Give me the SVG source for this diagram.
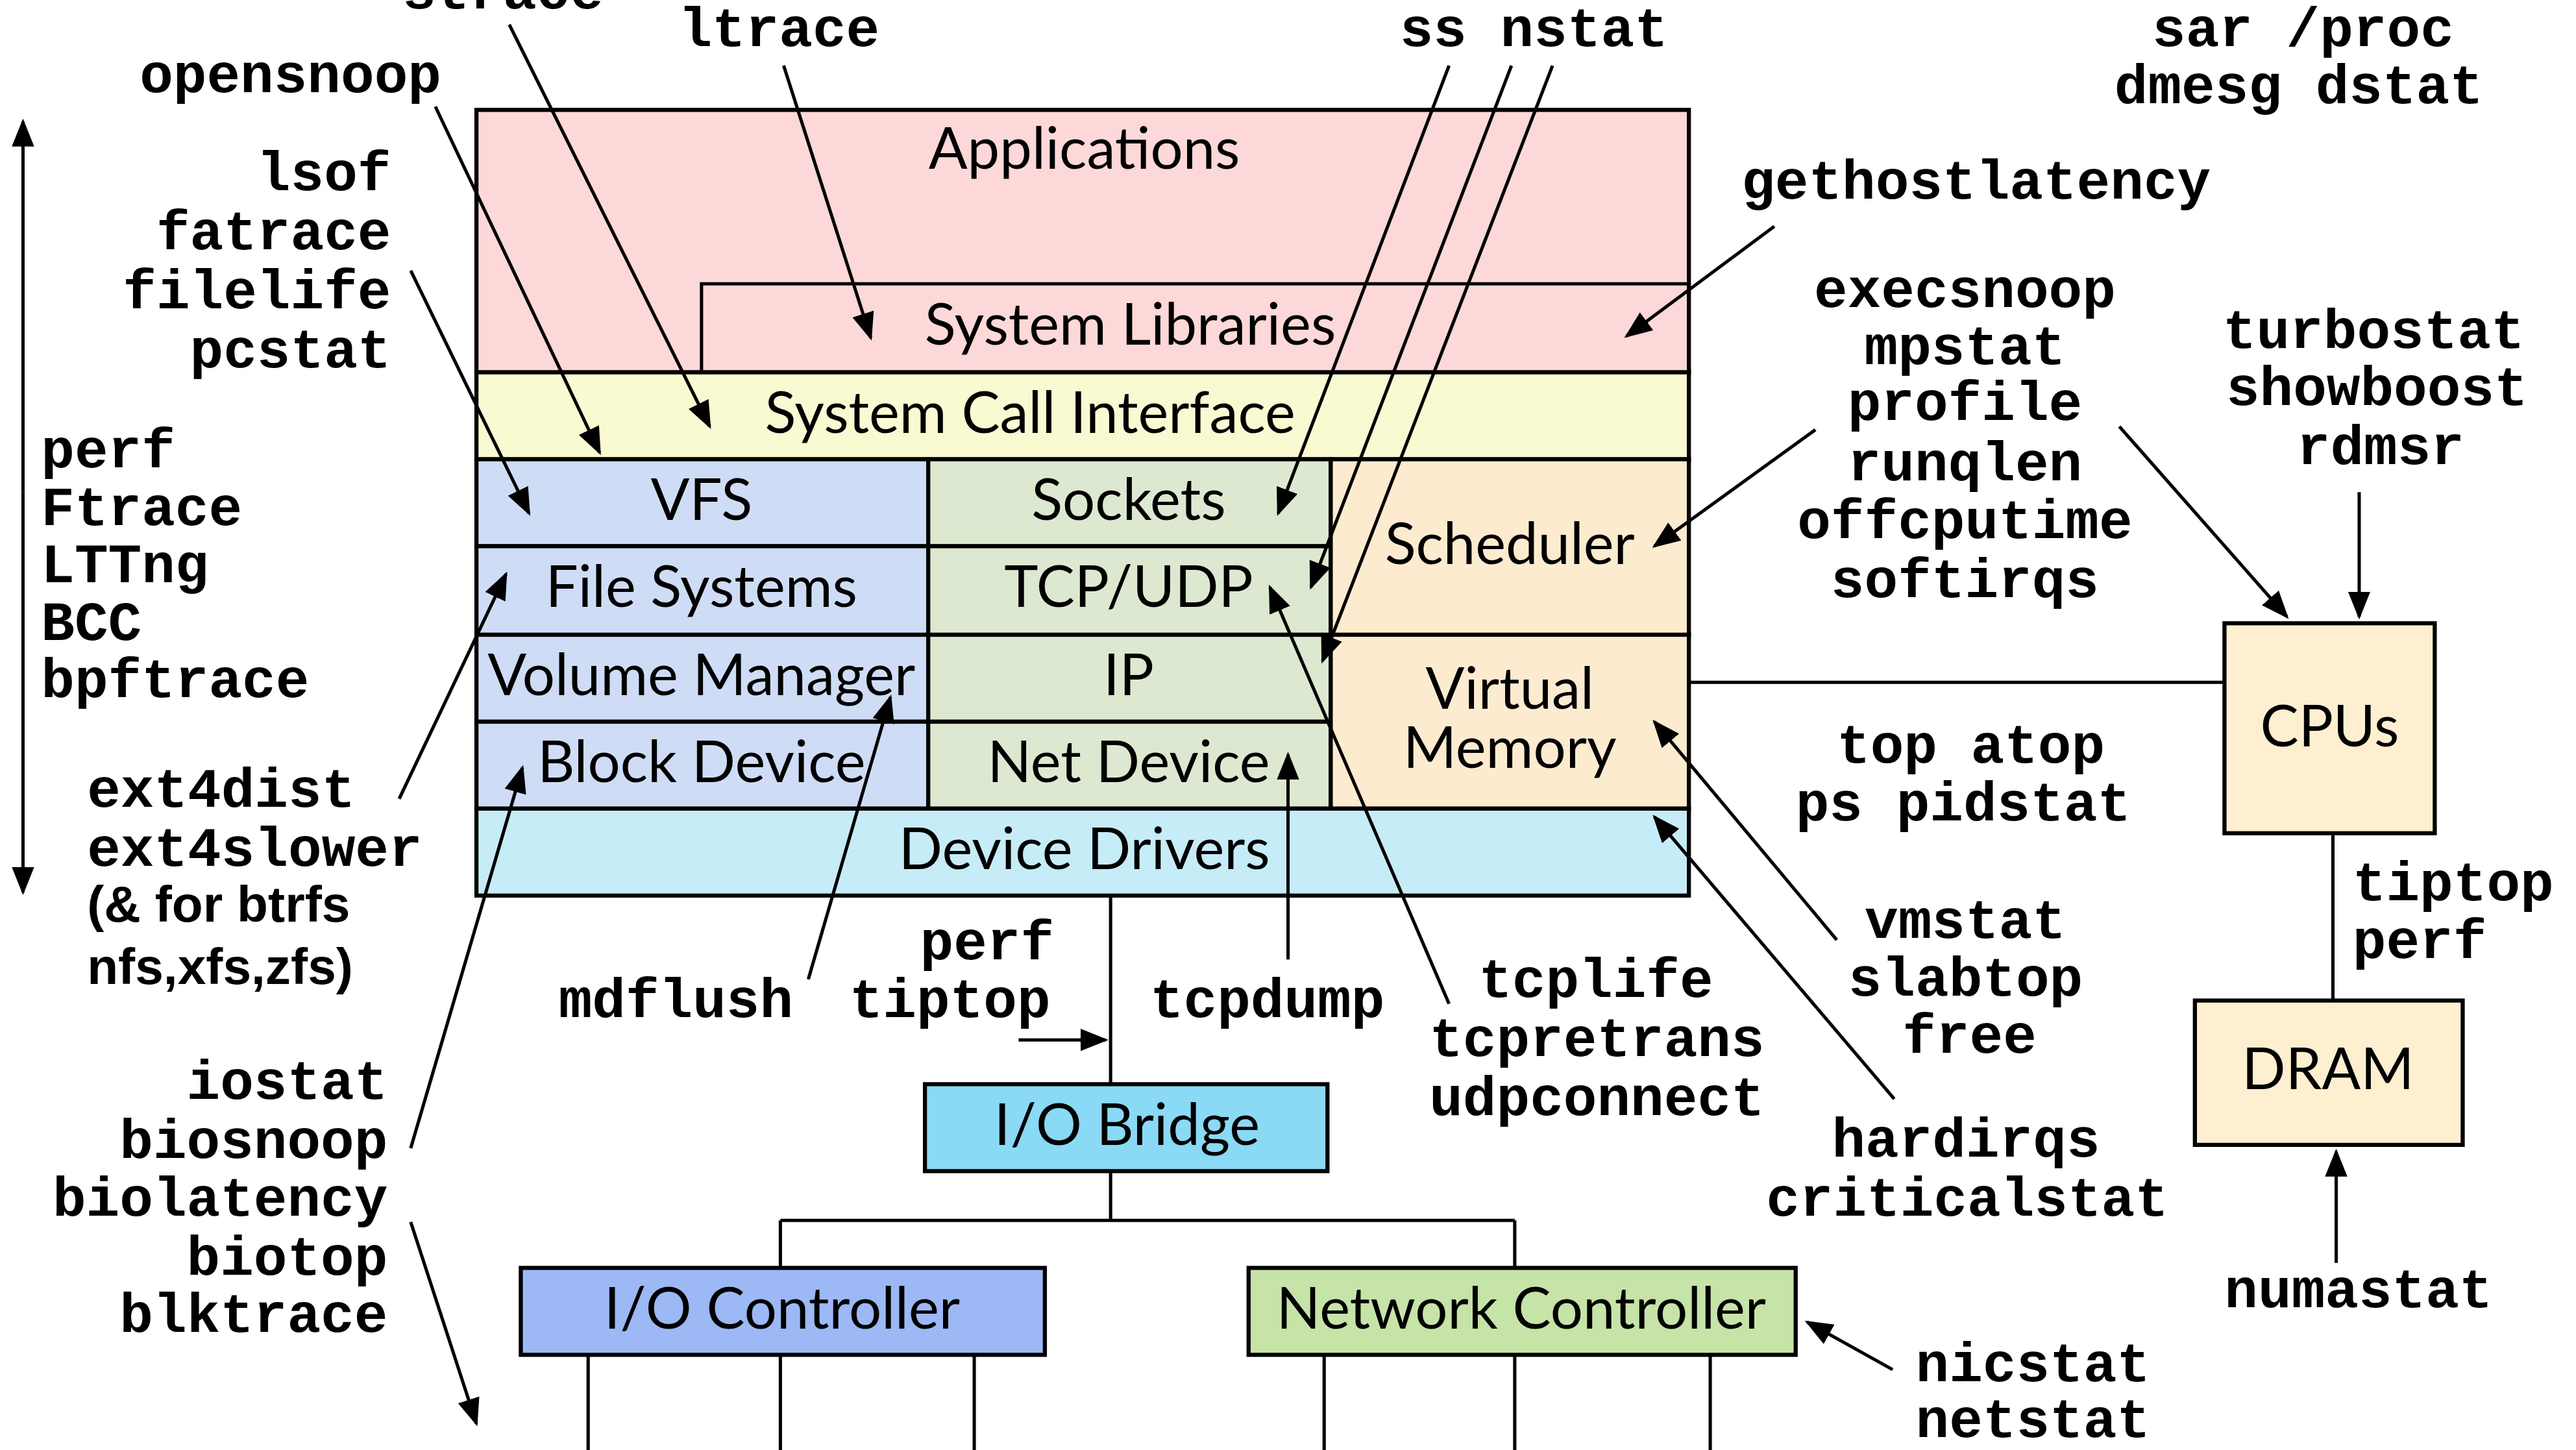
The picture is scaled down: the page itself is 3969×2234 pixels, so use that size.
<svg xmlns="http://www.w3.org/2000/svg" width="3969" height="2234" viewBox="0 0 3969 2234">
<defs>
<marker id="ah" viewBox="0 0 10 10" refX="9" refY="5" markerWidth="8.5" markerHeight="8.5" orient="auto-start-reverse" markerUnits="strokeWidth"><path d="M0,1 L10,5 L0,9 z" fill="#000"/></marker>
<style>
.t{font-family:"Liberation Mono","DejaVu Sans Mono",monospace;font-weight:bold;font-size:34px;fill:#000}
.s{font-family:"Liberation Sans",Arial,sans-serif;font-weight:bold;font-size:31px;fill:#000}
.b{font-family:Lato,"Open Sans",sans-serif;font-size:35px;fill:#000}
.bx{stroke:#000;stroke-width:2.5}
.ln{stroke:#000;stroke-width:2;fill:none}
.ar{stroke:#000;stroke-width:2;fill:none;marker-end:url(#ah)}
</style>
</defs>
<rect width="3969" height="2234" fill="#fff"/>
<g transform="scale(2.5313,2.5271)">
<g id="applications"><rect class="bx" x="290" y="67" width="738" height="160" fill="#fdd8d8"/><text class="b" x="660" y="103" text-anchor="middle">Applications</text></g>
<g id="syslibs"><path class="ln" d="M427,227 V173 H1028"/><text class="b" x="688" y="210" text-anchor="middle">System Libraries</text></g>
<g id="syscall"><rect class="bx" x="290" y="227" width="738" height="53" fill="#fafad2"/><text class="b" x="627" y="264" text-anchor="middle">System Call Interface</text></g>
<g id="vfs"><rect class="bx" x="290" y="280" width="275" height="53" fill="#cfdcf5"/><text class="b" x="427" y="317" text-anchor="middle">VFS</text></g>
<g id="fs"><rect class="bx" x="290" y="333" width="275" height="54" fill="#cfdcf5"/><text class="b" x="427" y="370" text-anchor="middle">File Systems</text></g>
<g id="vm"><rect class="bx" x="290" y="387" width="275" height="53" fill="#cfdcf5"/><text class="b" x="427" y="424" text-anchor="middle">Volume Manager</text></g>
<g id="blk"><rect class="bx" x="290" y="440" width="275" height="53" fill="#cfdcf5"/><text class="b" x="427" y="477" text-anchor="middle">Block Device</text></g>
<g id="sockets"><rect class="bx" x="565" y="280" width="245" height="53" fill="#dde8d0"/><text class="b" x="687" y="317" text-anchor="middle">Sockets</text></g>
<g id="tcpudp"><rect class="bx" x="565" y="333" width="245" height="54" fill="#dde8d0"/><text class="b" x="687" y="370" text-anchor="middle">TCP/UDP</text></g>
<g id="ip"><rect class="bx" x="565" y="387" width="245" height="53" fill="#dde8d0"/><text class="b" x="687" y="424" text-anchor="middle">IP</text></g>
<g id="netdev"><rect class="bx" x="565" y="440" width="245" height="53" fill="#dde8d0"/><text class="b" x="687" y="477" text-anchor="middle">Net Device</text></g>
<g id="sched"><rect class="bx" x="810" y="280" width="218" height="107" fill="#fdebd0"/><text class="b" x="919" y="344" text-anchor="middle">Scheduler</text></g>
<g id="virtmem"><rect class="bx" x="810" y="387" width="218" height="106" fill="#fdebd0"/><text class="b" x="919" y="432" text-anchor="middle">Virtual</text><text class="b" x="919" y="468" text-anchor="middle">Memory</text></g>
<g id="drivers"><rect class="bx" x="290" y="493" width="738" height="53" fill="#c6ecf7"/><text class="b" x="660" y="530" text-anchor="middle">Device Drivers</text></g>
<g id="iobridge"><rect class="bx" x="563" y="661" width="245" height="53" fill="#8ad9f5"/><text class="b" x="686" y="698" text-anchor="middle">I/O Bridge</text></g>
<g id="ioctl"><rect class="bx" x="317" y="773" width="319" height="53" fill="#9cb8f5"/><text class="b" x="476" y="810" text-anchor="middle">I/O Controller</text></g>
<g id="netctl"><rect class="bx" x="760" y="773" width="333" height="53" fill="#c6e3a8"/><text class="b" x="926" y="810" text-anchor="middle">Network Controller</text></g>
<g id="cpus"><rect class="bx" x="1354" y="380" width="128" height="128" fill="#fdefd0"/><text class="b" x="1418" y="455" text-anchor="middle">CPUs</text></g>
<g id="dram"><rect class="bx" x="1336" y="610" width="163" height="88" fill="#fdefd0"/><text class="b" x="1417" y="664" text-anchor="middle">DRAM</text></g>
<g id="connectors">
<path class="ln" d="M676,546 V661 M676,714 V744 M475,744 H922 M475,744 V773 M922,744 V773 M358,826 V884 M475,826 V884 M593,826 V884 M806,826 V884 M922,826 V884 M1041,826 V884 M1028,416 H1354 M1420,508 V610"/>
<path class="ar" d="M14,300 V74" /><path class="ar" d="M14,300 V544"/>
<path class="ar" d="M310,15 L432,260"/>
<path class="ar" d="M265,65 L365,276"/>
<path class="ar" d="M250,165 L322,313"/>
<path class="ar" d="M477,40 L530,206"/>
<path class="ar" d="M882,40 L778,313"/>
<path class="ar" d="M920,40 L798,358"/>
<path class="ar" d="M945,40 L805,403"/>
<path class="ar" d="M1080,138 L990,205"/>
<path class="ar" d="M1105,262 L1007,333"/>
<path class="ar" d="M1436,300 V376"/>
<path class="ar" d="M1290,260 L1392,376"/>
<path class="ar" d="M243,487 L308,350"/>
<path class="ar" d="M250,700 L318,468"/>
<path class="ar" d="M492,597 L542,425"/>
<path class="ar" d="M620,634 H673"/>
<path class="ar" d="M784,585 V460"/>
<path class="ar" d="M882,612 L773,358"/>
<path class="ar" d="M1118,573 L1007,440"/>
<path class="ar" d="M1153,670 L1007,498"/>
<path class="ar" d="M250,745 L290,868"/>
<path class="ar" d="M1422,770 V702"/>
<path class="ar" d="M1152,835 L1100,806"/>
</g>
<g id="labels">
<text class="t" x="245" y="5">strace</text>
<text class="t" x="413" y="28">ltrace</text>
<text class="t" x="852" y="28">ss nstat</text>
<text class="t" x="1310" y="28">sar /proc</text>
<text class="t" x="1287" y="63">dmesg dstat</text>
<text class="t" x="85" y="56">opensnoop</text>
<text class="t" x="238" y="116" text-anchor="end">lsof</text>
<text class="t" x="238" y="152" text-anchor="end">fatrace</text>
<text class="t" x="238" y="188" text-anchor="end">filelife</text>
<text class="t" x="238" y="224" text-anchor="end">pcstat</text>
<text class="t" x="25" y="285">perf</text>
<text class="t" x="25" y="320">Ftrace</text>
<text class="t" x="25" y="355">LTTng</text>
<text class="t" x="25" y="390">BCC</text>
<text class="t" x="25" y="425">bpftrace</text>
<text class="t" x="53" y="492">ext4dist</text>
<text class="t" x="53" y="528">ext4slower</text>
<text class="s" x="53" y="562">(&amp; for btrfs</text>
<text class="s" x="53" y="600">nfs,xfs,zfs)</text>
<text class="t" x="236" y="670" text-anchor="end">iostat</text>
<text class="t" x="236" y="706" text-anchor="end">biosnoop</text>
<text class="t" x="236" y="741" text-anchor="end">biolatency</text>
<text class="t" x="236" y="777" text-anchor="end">biotop</text>
<text class="t" x="236" y="812" text-anchor="end">blktrace</text>
<text class="t" x="340" y="620">mdflush</text>
<text class="t" x="560" y="585">perf</text>
<text class="t" x="517" y="620">tiptop</text>
<text class="t" x="700" y="620">tcpdump</text>
<text class="t" x="900" y="608">tcplife</text>
<text class="t" x="870" y="644">tcpretrans</text>
<text class="t" x="870" y="680">udpconnect</text>
<text class="t" x="1118" y="465">top atop</text>
<text class="t" x="1093" y="500">ps pidstat</text>
<text class="t" x="1135" y="572">vmstat</text>
<text class="t" x="1125" y="607">slabtop</text>
<text class="t" x="1158" y="642">free</text>
<text class="t" x="1115" y="705">hardirqs</text>
<text class="t" x="1075" y="741">criticalstat</text>
<text class="t" x="1166" y="842">nicstat</text>
<text class="t" x="1166" y="876">netstat</text>
<text class="t" x="1354" y="797">numastat</text>
<text class="t" x="1432" y="549">tiptop</text>
<text class="t" x="1432" y="584">perf</text>
<text class="t" x="1353" y="212">turbostat</text>
<text class="t" x="1355" y="247">showboost</text>
<text class="t" x="1398" y="283">rdmsr</text>
<text class="t" x="1060" y="121">gethostlatency</text>
<text class="t" x="1196" y="187" text-anchor="middle">execsnoop</text>
<text class="t" x="1196" y="222" text-anchor="middle">mpstat</text>
<text class="t" x="1196" y="256" text-anchor="middle">profile</text>
<text class="t" x="1196" y="293" text-anchor="middle">runqlen</text>
<text class="t" x="1196" y="328" text-anchor="middle">offcputime</text>
<text class="t" x="1196" y="364" text-anchor="middle">softirqs</text>
</g>
</g>
</svg>
